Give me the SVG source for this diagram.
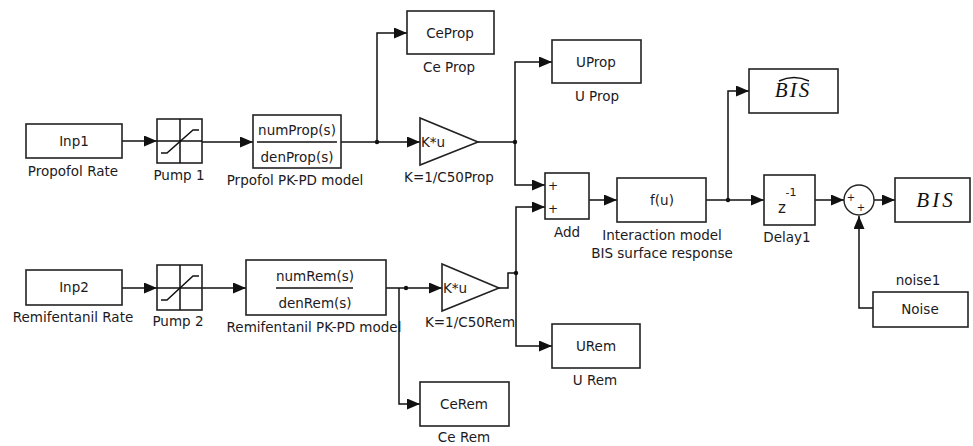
<svg xmlns="http://www.w3.org/2000/svg" width="973" height="446" viewBox="0 0 973 446">
<defs>
<marker id="ah" markerUnits="userSpaceOnUse" markerWidth="14" markerHeight="12" refX="13" refY="5.5" orient="auto">
<path d="M0,0 L13,5.5 L0,11 z" fill="#111"/>
</marker>
<style>
.blk{fill:#fff;stroke:#222;stroke-width:1.6}
.ln{fill:none;stroke:#111;stroke-width:1.5}
.w{fill:none;stroke:#111;stroke-width:1.5;marker-end:url(#ah)}
.t{font-family:"DejaVu Sans",Verdana,sans-serif;font-size:13.5px;fill:#1c1a22;text-anchor:middle}
.tl{text-anchor:start}
.bis{font-family:"Liberation Serif","Times New Roman",serif;font-style:italic;font-size:21px;fill:#111;text-anchor:middle}
.dot{fill:#111}
</style>
</defs>
<rect width="973" height="446" fill="#fff"/>

<g id="connectors">
<path class="w" d="M122,141 H157"/>
<path class="w" d="M202,142 H253"/>
<path class="w" d="M341,142 H420"/>
<path class="w" d="M377,142 V33 H407"/>
<path class="ln" d="M478,142 H515"/>
<path class="w" d="M515,142 V62 H552"/>
<path class="w" d="M515,142 V185 H545"/>
<path class="w" d="M589,200 H617"/>
<path class="w" d="M706,200 H764"/>
<path class="w" d="M728,200 V91 H749"/>
<path class="w" d="M815,200 H844"/>
<path class="w" d="M874,200 H895"/>
<path class="w" d="M873,308 H859 V216"/>
<path class="w" d="M122,288 H157"/>
<path class="w" d="M202,288 H246"/>
<path class="w" d="M386,288 H442"/>
<path class="w" d="M399,288 V404 H420"/>
<path class="ln" d="M499,288 H508 V273 H516"/>
<path class="w" d="M516,273 V207 H545"/>
<path class="w" d="M516,273 V346 H552"/>
<circle class="dot" cx="377" cy="142" r="2.2"/>
<circle class="dot" cx="515" cy="142" r="2.2"/>
<circle class="dot" cx="728" cy="200" r="2.2"/>
<circle class="dot" cx="406" cy="288" r="2.2"/>
<circle class="dot" cx="516" cy="273" r="2.2"/>
</g>

<g id="inp1">
<rect class="blk" x="26" y="124" width="96" height="34"/>
<text class="t" x="74" y="146">Inp1</text>
<text class="t" x="73" y="176">Propofol Rate</text>
</g>

<g id="pump1">
<rect class="blk" x="157" y="119" width="45" height="44"/>
<path class="ln" d="M180,119 V163 M157,141 H202" stroke-width="1.2"/>
<path class="ln" d="M161,153 H167 L193,130 H199" stroke-width="1.2"/>
<text class="t" x="179" y="180">Pump 1</text>
</g>

<g id="tfProp">
<rect class="blk" x="253" y="115" width="88" height="53"/>
<path class="ln" d="M257,142 H337"/>
<text class="t" x="297" y="135">numProp(s)</text>
<text class="t" x="297" y="162">denProp(s)</text>
<text class="t" x="295" y="185">Prpofol PK-PD model</text>
</g>

<g id="ceProp">
<rect class="blk" x="407" y="11" width="87" height="43"/>
<text class="t" x="450" y="38">CeProp</text>
<text class="t" x="449" y="72">Ce Prop</text>
</g>

<g id="gainProp">
<path class="blk" d="M420,118 V165 L478,142 Z"/>
<text class="t tl" x="421" y="147">K*u</text>
<text class="t" x="449" y="182">K=1/C50Prop</text>
</g>

<g id="uProp">
<rect class="blk" x="552" y="40" width="89" height="43"/>
<text class="t" x="596" y="67">UProp</text>
<text class="t" x="597" y="101">U Prop</text>
</g>

<g id="add">
<rect class="blk" x="545" y="173" width="44" height="46"/>
<text class="t tl" x="548" y="190" style="font-size:12px">+</text>
<text class="t tl" x="548" y="213" style="font-size:12px">+</text>
<text class="t" x="567" y="237">Add</text>
</g>

<g id="interaction">
<rect class="blk" x="617" y="178" width="89" height="44"/>
<text class="t" x="662" y="205">f(u)</text>
<text class="t" x="662" y="240">Interaction model</text>
<text class="t" x="662" y="258">BIS surface response</text>
</g>

<g id="bisHat">
<rect class="blk" x="749" y="69" width="89" height="44"/>
<text class="bis" x="793" y="97" style="letter-spacing:2px">BIS</text>
<path class="ln" d="M779,81 Q794,74 809,81" stroke-width="1.1"/>
</g>

<g id="delay1">
<rect class="blk" x="764" y="175" width="51" height="50"/>
<text class="t" x="791" y="196" style="font-size:11px">-1</text>
<text class="t" x="782" y="213" style="font-size:15px">z</text>
<text class="t" x="787" y="242">Delay1</text>
</g>

<g id="sum">
<circle cx="859" cy="200" r="15" fill="#fff" stroke="#222" stroke-width="1.4"/>
<text class="t" x="851" y="201" style="font-size:10px">+</text>
<text class="t" x="861" y="211" style="font-size:10px">+</text>
</g>

<g id="bis">
<rect class="blk" x="895" y="178" width="75" height="44"/>
<text class="bis" x="936" y="207" style="letter-spacing:3px">BIS</text>
</g>

<g id="noise">
<rect class="blk" x="873" y="292" width="95" height="35"/>
<text class="t" x="920" y="314">Noise</text>
<text class="t" x="918" y="285">noise1</text>
</g>

<g id="inp2">
<rect class="blk" x="26" y="270" width="96" height="35"/>
<text class="t" x="74" y="292">Inp2</text>
<text class="t" x="73" y="322">Remifentanil Rate</text>
</g>

<g id="pump2">
<rect class="blk" x="157" y="265" width="45" height="45"/>
<path class="ln" d="M180,265 V310 M157,288 H202" stroke-width="1.2"/>
<path class="ln" d="M161,300 H167 L193,276 H199" stroke-width="1.2"/>
<text class="t" x="178" y="326">Pump 2</text>
</g>

<g id="tfRem">
<rect class="blk" x="246" y="260" width="140" height="55"/>
<path class="ln" d="M276,288 H353"/>
<text class="t" x="315" y="281">numRem(s)</text>
<text class="t" x="315" y="308">denRem(s)</text>
<text class="t" x="314" y="332">Remifentanil PK-PD model</text>
</g>

<g id="ceRem">
<rect class="blk" x="420" y="382" width="89" height="44"/>
<text class="t" x="464" y="409">CeRem</text>
<text class="t" x="464" y="442">Ce Rem</text>
</g>

<g id="gainRem">
<path class="blk" d="M442,264 V311 L499,288 Z"/>
<text class="t tl" x="443" y="293">K*u</text>
<text class="t" x="470" y="327">K=1/C50Rem</text>
</g>

<g id="uRem">
<rect class="blk" x="552" y="324" width="88" height="44"/>
<text class="t" x="596" y="351">URem</text>
<text class="t" x="595" y="385">U Rem</text>
</g>
</svg>
